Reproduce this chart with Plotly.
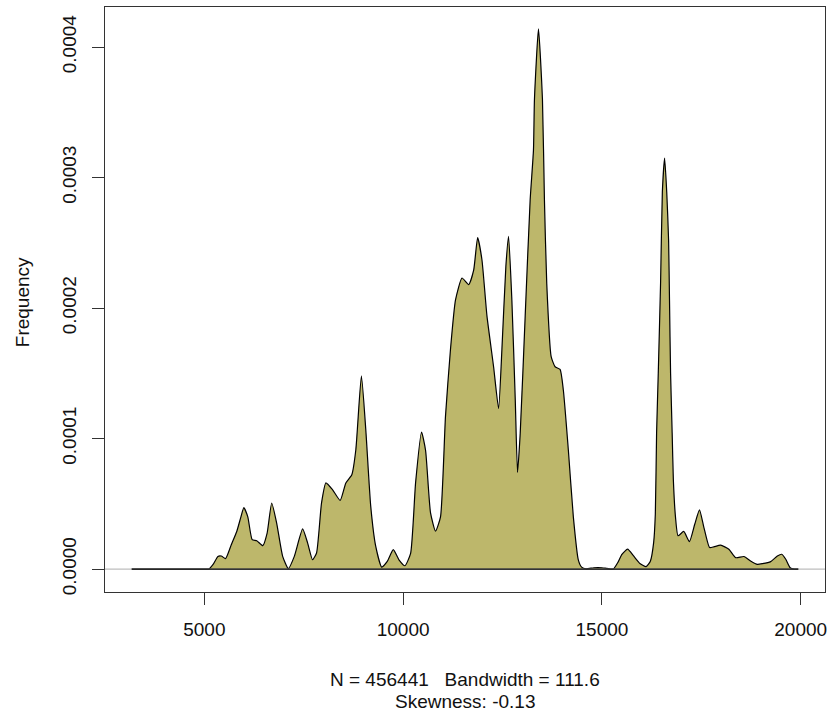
import plotly.graph_objects as go

# Density estimate (x value, density)
x_vals = [3172, 5000, 5115, 5220, 5341, 5426, 5534, 5677, 5817, 5920, 5993, 6093,
          6203, 6318, 6469, 6579, 6694, 6820, 6970, 7113, 7263, 7472, 7597, 7722,
          7822, 7947, 8058, 8223, 8416, 8559, 8709, 8810, 8950, 9060, 9185, 9311,
          9461, 9601, 9752, 9895, 10045, 10188, 10313, 10463, 10564, 10689, 10815,
          10940, 11065, 11190, 11316, 11481, 11649, 11774, 11874, 11982, 12108,
          12275, 12401, 12484, 12584, 12652, 12735, 12820, 12877, 12945, 13070,
          13195, 13278, 13303, 13404, 13504, 13554, 13612, 13722, 13822, 13948,
          14030, 14156, 14281, 14406, 14489, 14600, 14800, 15000, 15125, 15288,
          15400, 15503, 15646, 15797, 15965, 16110, 16218, 16300, 16343, 16375,
          16417, 16476, 16520, 16577, 16630, 16677, 16700, 16727, 16767, 16797,
          16850, 16915, 17058, 17201, 17336, 17454, 17564, 17707, 17815, 17985,
          18193, 18363, 18571, 18739, 18909, 19035, 19245, 19413, 19523, 19624,
          19734, 19834, 19940]
dens_e5 = [0, 0, 0, 0.35, 0.97, 1.0, 0.8, 1.86, 2.9, 4.0, 4.7, 4.0,
           2.25, 2.17, 1.79, 2.76, 5.06, 3.5, 0.97, 0.03, 0.97, 3.07, 2.0, 0.71,
           1.23, 5.06, 6.6, 6.08, 5.26, 6.6, 7.23, 9.14, 14.8, 10.7, 4.8, 1.73,
           0.15, 0.58, 1.48, 0.71, 0.25, 1.2, 6.6, 10.5, 9.1, 4.3, 2.9,
           4.0, 11.7, 16.8, 20.6, 22.3, 21.8, 22.9, 25.4, 23.7, 19.4,
           15.5, 12.3, 16.8, 23.2, 25.5, 20.6, 13.0, 7.4, 10.4, 19.4,
           28.3, 32.1, 36.0, 41.4, 36.0, 28.3, 21.9, 16.3, 15.5, 15.3,
           13.7, 9.1, 4.0, 0.7, 0.15, 0.02, 0.1, 0.1, 0.05, 0.0,
           0.5, 1.13, 1.52, 1.0, 0.4, 0.18, 0.6, 2.0, 4.2, 10.4,
           15.0, 22.0, 28.9, 31.5, 28.9, 25.2, 20.6, 15.0, 10.4, 6.8,
           4.0, 2.55, 2.88, 2.1, 3.45, 4.53, 3.2, 1.65, 1.7, 1.83,
           1.52, 0.87, 0.96, 0.62, 0.36, 0.41, 0.57, 1.0, 1.13, 0.75,
           0.1, 0, 0]
density = [v * 1e-5 for v in dens_e5]

x_ticks = [5000, 10000, 15000, 20000]
y_ticks = [0.0, 0.0001, 0.0002, 0.0003, 0.0004]
y_tick_labels = ["0.0000", "0.0001", "0.0002", "0.0003", "0.0004"]
subtitle_1 = "N = 456441   Bandwidth = 111.6"
subtitle_2 = "Skewness: -0.13"
y_title = "Frequency"

FONT = "Liberation Sans, Arial, sans-serif"
AX = "#333333"

fig = go.Figure()
fig.add_trace(go.Scatter(
    x=x_vals, y=density, mode="lines",
    line=dict(color="black", width=1.2, shape="spline", smoothing=0.5),
    fill="tozeroy", fillcolor="#BDB76B", hoverinfo="skip", showlegend=False))

fig.add_shape(type="line", xref="paper", yref="y", x0=0, x1=1, y0=0, y1=0,
              line=dict(color="#BEBEBE", width=1.2), layer="above")
fig.add_shape(type="line", xref="x", yref="y", x0=x_vals[0], x1=x_vals[-1], y0=0, y1=0,
              line=dict(color="black", width=1.2), layer="above")

fig.update_layout(
    width=832, height=715,
    margin=dict(l=105, r=5, t=7, b=123),
    paper_bgcolor="white", plot_bgcolor="white",
    font=dict(family=FONT, size=19, color="black"),
    xaxis=dict(range=[2501, 20611], tickvals=x_ticks, ticktext=[str(v) for v in x_ticks],
               showgrid=False, zeroline=False, showline=True, mirror=True,
               linecolor=AX, linewidth=1.2, ticks="outside", ticklen=12,
               tickcolor=AX, tickwidth=1.2, ticklabelstandoff=8,
               tickfont=dict(size=19, family=FONT, color="#111")),
    yaxis=dict(range=[-1.76e-5, 4.307e-4], tickvals=y_ticks, ticktext=y_tick_labels,
               tickangle=-90, showgrid=False, zeroline=False, showline=True, mirror=True,
               linecolor=AX, linewidth=1.2, ticks="outside", ticklen=12,
               tickcolor=AX, tickwidth=1.2, ticklabelstandoff=8,
               tickfont=dict(size=19, family=FONT, color="#111")),
    annotations=[
        dict(text=subtitle_1, xref="paper", yref="paper", x=0.5, y=(592 - 679) / 585,
             xanchor="center", yanchor="middle", showarrow=False,
             font=dict(size=19, family=FONT, color="#111")),
        dict(text=subtitle_2, xref="paper", yref="paper", x=0.5, y=(592 - 701) / 585,
             xanchor="center", yanchor="middle", showarrow=False,
             font=dict(size=19, family=FONT, color="#111")),
        dict(text=y_title, xref="paper", yref="paper", x=(22 - 105) / 722, y=(592 - 302) / 585,
             xanchor="center", yanchor="middle", textangle=-90, showarrow=False,
             font=dict(size=19, family=FONT, color="#111")),
    ],
)

fig.write_html("out.html")
